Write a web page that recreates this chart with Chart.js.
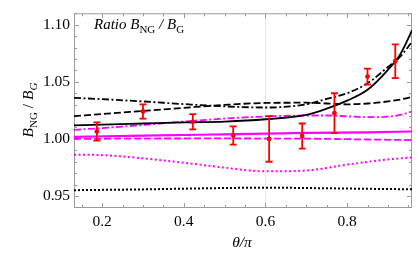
<!DOCTYPE html>
<html>
<head>
<meta charset="utf-8">
<script src="https://cdn.jsdelivr.net/npm/chart.js@4.4.1/dist/chart.umd.min.js"></script>
<style>
  html, body { margin: 0; padding: 0; background: #fff; }
  #wrap { width: 419px; height: 259px; }
</style>
</head>
<body>
<div id="wrap"><canvas id="chart"></canvas></div>
<script>
// ── Data ──────────────────────────────────────────────────
const xTicks = [0.2, 0.4, 0.6, 0.8];
const yTicks = [0.95, 1.00, 1.05, 1.10];

const thetaA = [0.131, 0.2, 0.3, 0.4, 0.5, 0.6, 0.7, 0.75, 0.8, 0.85, 0.9, 0.93, 0.959];
const blackSolid   = [1.0118, 1.0125, 1.0135, 1.0145, 1.0152, 1.0172, 1.0210, 1.0265, 1.0335, 1.0430, 1.0605, 1.0740, 1.0950];
const blackDashDot = [1.0359, 1.0348, 1.0328, 1.0305, 1.0285, 1.0275, 1.0303, 1.0350, 1.0400, 1.0487, 1.0630, 1.0720, 1.0850];
const blackDashed  = [1.0199, 1.0218, 1.0245, 1.0272, 1.0298, 1.0315, 1.0317, 1.0310, 1.0303, 1.0310, 1.0328, 1.0345, 1.0368];
const magDashDot   = [1.0080, 1.0095, 1.0122, 1.0152, 1.0178, 1.0197, 1.0205, 1.0205, 1.0198, 1.0190, 1.0195, 1.0210, 1.0240];

const thetaB = [0.131, 0.3, 0.5, 0.6, 0.7, 0.85, 0.959];
const magSolid     = [1.0018, 1.0028, 1.0040, 1.0046, 1.0053, 1.0058, 1.0065];
const magDashed    = [1.0000, 1.0003, 1.0004, 1.0003, 1.0002, 0.9995, 0.9990];
const blackDotted  = [0.9551, 0.9558, 0.9570, 0.9573, 0.9570, 0.9563, 0.9559];

const thetaC = [0.131, 0.2, 0.3, 0.4, 0.5, 0.6, 0.7, 0.8, 0.9, 0.959];
const magDotted    = [0.9862, 0.9858, 0.9830, 0.9792, 0.9748, 0.9716, 0.9723, 0.9775, 0.9820, 0.9838];

// lattice points with error bars
const ptTheta = [0.187, 0.300, 0.422, 0.521, 0.609, 0.690, 0.769, 0.850, 0.918];
const ptRatio = [1.0065, 1.0240, 1.0150, 1.0030, 1.0000, 1.0025, 1.0225, 1.0546, 1.0680];
const ptErr   = [0.0080, 0.0063, 0.0067, 0.0080, 0.0200, 0.0110, 0.0175, 0.0070, 0.0147];

const MAG = "#ff00ff";
const RED = "#ff0000";

function pts(xs, ys) { return xs.map((x, i) => ({ x, y: ys[i] })); }

function curve(xs, ys, color, dash, width) {
  return {
    type: "line",
    data: pts(xs, ys),
    borderColor: color,
    borderWidth: width,
    borderDash: dash,
    pointRadius: 0,
    fill: false,
    cubicInterpolationMode: "monotone",
  };
}

// ── Frame, inward ticks, error bars, text ─────────────────
const decor = {
  id: "decor",
  beforeDatasetsDraw(chart) {
    const { ctx, chartArea: a, scales: { x, y } } = chart;
    ctx.save();
    ctx.strokeStyle = "#9a9a9a";
    ctx.lineWidth = 1;
    ctx.strokeRect(a.left + 0.5, a.top + 0.5, a.right - a.left - 1, a.bottom - a.top - 1);
    ctx.beginPath();
    // x ticks (major 0.2, minor 0.05)
    for (let k = Math.ceil(x.min / 0.05); k * 0.05 <= x.max; k++) {
      const v = k * 0.05;
      const len = k % 4 === 0 ? 5 : 3;
      const px = Math.round(x.getPixelForValue(v)) + 0.5;
      ctx.moveTo(px, a.bottom); ctx.lineTo(px, a.bottom - len);
      ctx.moveTo(px, a.top);    ctx.lineTo(px, a.top + len);
    }
    // y ticks (major 0.05, minor 0.01)
    for (let k = Math.ceil(y.min / 0.01); k * 0.01 <= y.max + 1e-9; k++) {
      const v = k * 0.01;
      const len = k % 5 === 0 ? 5 : 3;
      const py = Math.round(y.getPixelForValue(v)) + 0.5;
      ctx.moveTo(a.left, py);  ctx.lineTo(a.left + len, py);
      ctx.moveTo(a.right, py); ctx.lineTo(a.right - len, py);
    }
    ctx.stroke();
    ctx.restore();
  },
  beforeDatasetDraw(chart, args) {
    if (args.index !== 0) return;
    const { ctx, scales: { x, y } } = chart;
    ctx.save();
    ctx.strokeStyle = RED;
    ctx.lineWidth = 1.8;
    ctx.beginPath();
    ptTheta.forEach((t, i) => {
      const px = x.getPixelForValue(t);
      const top = y.getPixelForValue(ptRatio[i] + ptErr[i]);
      const bot = y.getPixelForValue(ptRatio[i] - ptErr[i]);
      ctx.moveTo(px, top); ctx.lineTo(px, bot);
      ctx.moveTo(px - 3.5, top); ctx.lineTo(px + 3.5, top);
      ctx.moveTo(px - 3.5, bot); ctx.lineTo(px + 3.5, bot);
    });
    ctx.stroke();
    ctx.restore();
  },
  afterDraw(chart) {
    const ctx = chart.ctx;
    ctx.save();
    ctx.fillStyle = "#000";
    ctx.textBaseline = "alphabetic";

    // rich text pieces: [text, style, size, dy]
    function rich(parts, x0, y0) {
      let cx = x0;
      parts.forEach(([t, st, sz, dy]) => {
        ctx.font = `${st} ${sz}px "Liberation Serif"`;
        ctx.fillText(t, cx, y0 + dy);
        cx += ctx.measureText(t).width;
      });
    }
    function richWidth(parts) {
      let w = 0;
      parts.forEach(([t, st, sz]) => { ctx.font = `${st} ${sz}px "Liberation Serif"`; w += ctx.measureText(t).width; });
      return w;
    }

    // inset label
    rich([
      ["Ratio ", "italic", 15, 0],
      ["B", "italic", 15, 0],
      ["NG", "normal", 11, 3.5],
      [" / ", "italic", 15, 0],
      ["B", "italic", 15, 0],
      ["G", "normal", 11, 3.5],
    ], 94, 29);

    // y axis title
    const yParts = [
      ["B", "italic", 15.5, 0],
      ["NG", "normal", 11, 3.5],
      [" / ", "normal", 15.5, 0],
      ["B", "italic", 15.5, 0],
      ["G", "italic", 11, 3.5],
    ];
    ctx.translate(33, 110);
    ctx.rotate(-Math.PI / 2);
    rich(yParts, -richWidth(yParts) / 2, 0);
    ctx.setTransform(1, 0, 0, 1, 0, 0);

    // x axis title
    const xParts = [["θ/π", "italic", 15.5, 0]];
    rich(xParts, 242 - richWidth(xParts) / 2, 247);
    ctx.restore();
  }
};

// ── Chart ─────────────────────────────────────────────────
Chart.defaults.font.family = '"Liberation Serif", serif';
Chart.defaults.font.size = 15.5;
Chart.defaults.color = "#000";

new Chart(document.getElementById("chart").getContext("2d"), {
  type: "scatter",
  data: {
    datasets: [
      {
        type: "scatter",
        data: pts(ptTheta, ptRatio),
        backgroundColor: RED,
        borderColor: RED,
        pointRadius: 2.4,
        pointBorderWidth: 0,
        order: -1,
      },
      curve(thetaA, blackSolid,   "#000", [],                 1.8),
      curve(thetaA, blackDashDot, "#000", [7, 2.5, 2, 2.5],   1.8),
      curve(thetaA, blackDashed,  "#000", [7, 3],             1.8),
      curve(thetaB, blackDotted,  "#000", [2, 2],             2),
      curve(thetaA, magDashDot,   MAG,    [7, 2.5, 2, 2.5],   1.8),
      curve(thetaB, magSolid,     MAG,    [],                 2.2),
      curve(thetaB, magDashed,    MAG,    [7, 3],             1.8),
      curve(thetaC, magDotted,    MAG,    [2, 2.5],           2),
    ]
  },
  options: {
    responsive: true,
    maintainAspectRatio: false,
    animation: false,
    layout: { padding: { top: 5, right: 7, left: 0, bottom: 0 } },
    plugins: { legend: { display: false }, tooltip: { enabled: false } },
    scales: {
      x: {
        type: "linear",
        min: 0.131, max: 0.959,
        afterBuildTicks: s => { s.ticks = xTicks.map(v => ({ value: v })); },
        afterFit: s => { s.height = 51; },
        ticks: { padding: 5, callback: v => v.toFixed(1), maxRotation: 0 },
        grid: {
          drawTicks: false,
          color: c => (c.tick && Math.abs(c.tick.value - 0.6) < 1e-6) ? "#e6e6e6" : "rgba(0,0,0,0)",
        },
        border: { display: false },
      },
      y: {
        type: "linear",
        min: 0.9395, max: 1.110,
        afterBuildTicks: s => { s.ticks = yTicks.map(v => ({ value: v })); },
        afterFit: s => { s.width = 74; },
        ticks: { padding: 4, callback: v => v.toFixed(2) },
        grid: { display: false, drawTicks: false },
        border: { display: false },
      }
    }
  },
  plugins: [decor]
});
</script>
</body>
</html>
